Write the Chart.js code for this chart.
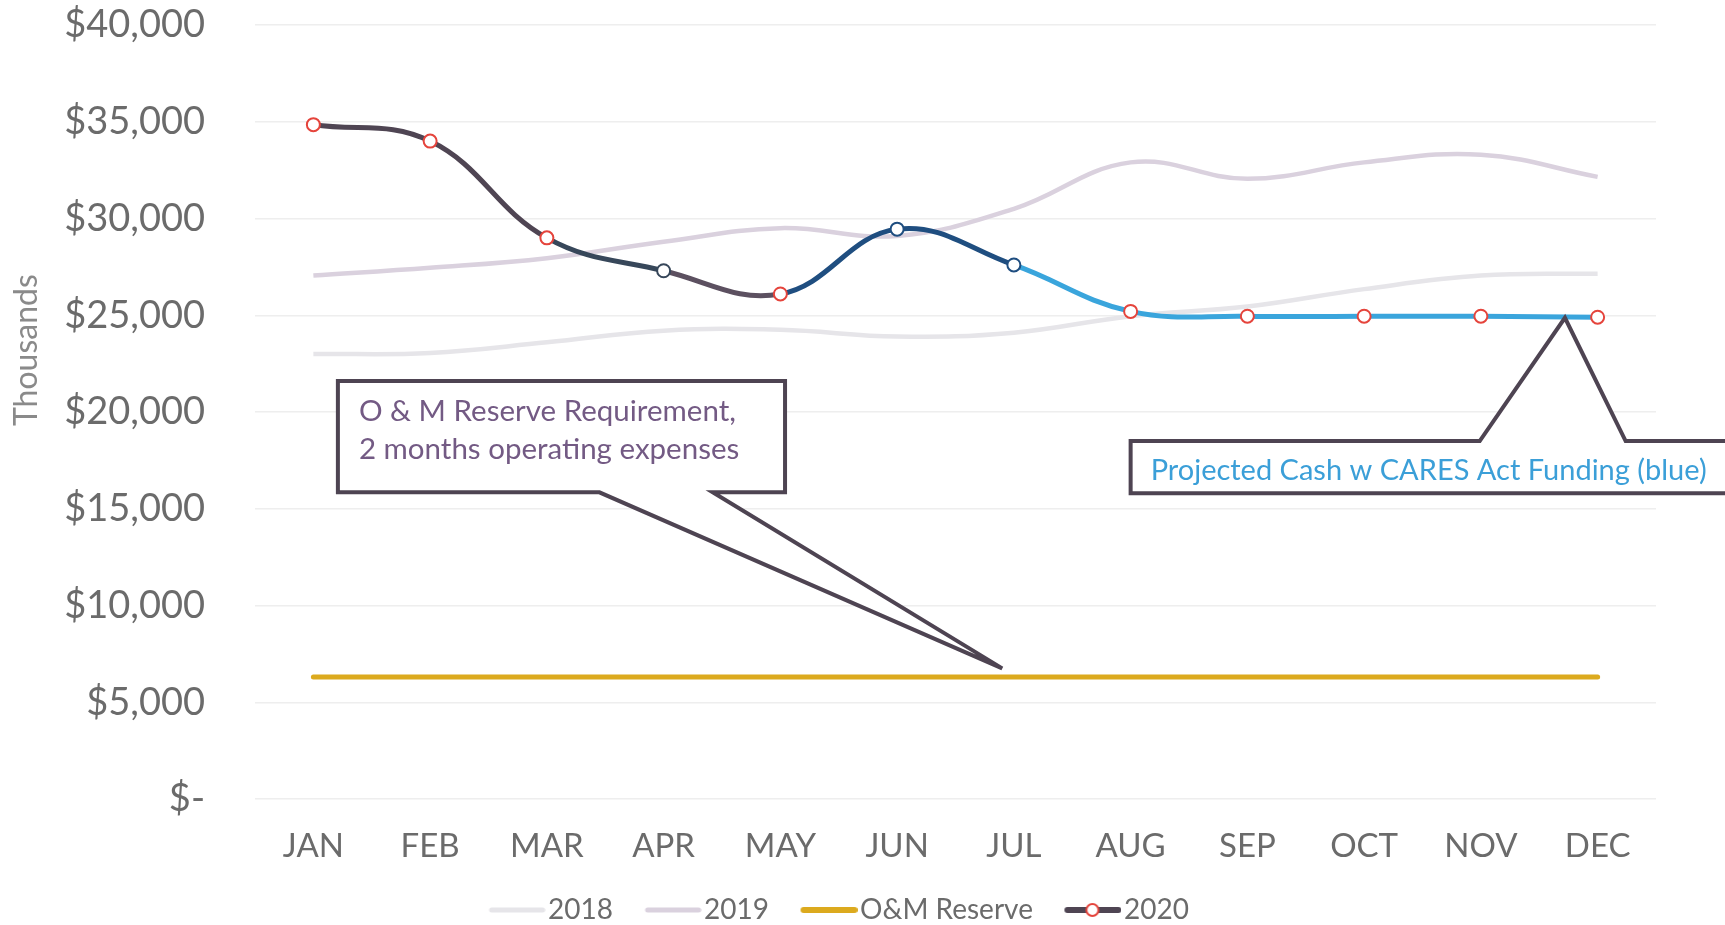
<!DOCTYPE html>
<html>
<head>
<meta charset="utf-8">
<script src="https://cdn.jsdelivr.net/npm/chart.js@4.4.1/dist/chart.umd.min.js"></script>
<style>
  html, body { margin: 0; padding: 0; background: #fff; }
</style>
</head>
<body>
<canvas id="cashChart" width="1725" height="925"></canvas>
<script>
  // values in thousands of dollars
  const months = ['JAN', 'FEB', 'MAR', 'APR', 'MAY', 'JUN', 'JUL', 'AUG', 'SEP', 'OCT', 'NOV', 'DEC']
  const cash2018 = [23000, 23050, 23600, 24200, 24250, 23900, 24100, 24950, 25450, 26350, 27050, 27150]
  const cash2019 = [27050, 27450, 27950, 28800, 29500, 29100, 30500, 32900, 32050, 32900, 33300, 32150]
  const omReserve = [6300, 6300, 6300, 6300, 6300, 6300, 6300, 6300, 6300, 6300, 6300, 6300]
  const cash2020 = [34850, 34000, 29000, 27300, 26100, 29450, 27600, 25200, 24950, 24950, 24950, 24900]
  const yTicks = [0, 5000, 10000, 15000, 20000, 25000, 30000, 35000, 40000]

  const omNote = ['O & M Reserve Requirement,', '2 months operating expenses']
  const caresNote = 'Projected Cash w CARES Act Funding (blue)'

  // line segment colours of 2020 (segment i runs from month i to i+1)
  const segColors = ['#4f4553', '#4f4553', '#37475a', '#5c5060', '#1f4e80', '#1f4e80',
    '#3aa5dc', '#3aa5dc', '#3aa5dc', '#3aa5dc', '#3aa5dc']
  const markerColors = ['#e5443c', '#e5443c', '#e5443c', '#37475a', '#e5443c', '#1f4e80',
    '#1f4e80', '#e5443c', '#e5443c', '#e5443c', '#e5443c', '#e5443c']

  Chart.defaults.font.family = 'Lato, "Open Sans", sans-serif'

  // legend swatch: the box is 67 wide, the line sits at its right end
  function legendIcon(color, width, marker) {
    const c = document.createElement('canvas')
    c.width = 90
    c.height = 16
    const g = c.getContext('2d')
    g.strokeStyle = color
    g.lineWidth = width
    g.lineCap = 'round'
    g.beginPath()
    g.moveTo(36, 8)
    g.lineTo(87, 8)
    g.stroke()
    if (marker) {
      g.beginPath()
      g.arc(61, 8, 6, 0, Math.PI * 2)
      g.fillStyle = '#fff'
      g.fill()
      g.lineWidth = 2
      g.strokeStyle = marker
      g.stroke()
    }
    return c
  }

  const icons = [
    legendIcon('#e6e5e9', 5),
    legendIcon('#dad1de', 5),
    legendIcon('#dcaa1e', 6),
    legendIcon('#4f4553', 6, '#e5443c')
  ]

  // callouts are placed in data units (category index, value)
  const callouts = {
    id: 'callouts',
    afterLayout(chart) {
      chart.legend.top += 9
      chart.legend.bottom += 9
    },
    afterDraw(chart) {
      const { ctx, scales: { x, y }, chartArea } = chart
      const px = i => x.getPixelForValue(i)
      const py = v => y.getPixelForValue(v)
      ctx.save()
      ctx.lineWidth = 4
      ctx.strokeStyle = '#4e4452'
      ctx.fillStyle = '#fff'
      ctx.lineJoin = 'miter'

      // O&M callout
      let x0 = px(0.21), x1 = px(4.04), t = py(21600), b = py(15850)
      ctx.beginPath()
      ctx.moveTo(x0, t)
      ctx.lineTo(x1, t)
      ctx.lineTo(x1, b)
      ctx.lineTo(px(3.42), b)
      ctx.lineTo(px(5.9), py(6750))
      ctx.lineTo(px(2.45), b)
      ctx.lineTo(x0, b)
      ctx.closePath()
      ctx.fill()
      ctx.stroke()
      ctx.fillStyle = '#735a84'
      ctx.font = '29.5px Lato'
      ctx.textBaseline = 'middle'
      ctx.fillText(omNote[0], x0 + 21, t + 30)
      ctx.fillText(omNote[1], x0 + 21, t + 68)

      // CARES callout
      x0 = px(7.0); x1 = px(12.3); t = py(18500); b = py(15800)
      ctx.fillStyle = '#fff'
      ctx.beginPath()
      ctx.moveTo(x0, b)
      ctx.lineTo(x0, t)
      ctx.lineTo(px(9.99), t)
      ctx.lineTo(px(10.72), py(24870))
      ctx.lineTo(px(11.24), t)
      ctx.lineTo(x1, t)
      ctx.lineTo(x1, b)
      ctx.closePath()
      ctx.fill()
      ctx.stroke()
      ctx.fillStyle = '#3b9fd8'
      ctx.font = '29px Lato'
      ctx.fillText(caresNote, x0 + 20, t + 30)

      // axis title
      ctx.translate(27, chartArea.top + chartArea.height * 0.42)
      ctx.rotate(-Math.PI / 2)
      ctx.textAlign = 'center'
      ctx.fillStyle = '#8a8a8a'
      ctx.font = '32px Lato'
      ctx.fillText('Thousands', 0, 0)
      ctx.restore()
    }
  }

  const ctx = document.getElementById('cashChart')
  // eslint-disable-next-line no-unused-vars
  const cashChart = new Chart(ctx, {
    type: 'line',
    data: {
      labels: months,
      datasets: [{
        label: '2018',
        data: cash2018,
        borderColor: '#e6e5e9',
        borderWidth: 4.5,
        pointRadius: 0,
        tension: 0.4,
        order: 1
      }, {
        label: '2019',
        data: cash2019,
        borderColor: '#dad1de',
        borderWidth: 4.5,
        pointRadius: 0,
        tension: 0.4,
        order: 1
      }, {
        label: 'O&M Reserve',
        data: omReserve,
        borderColor: '#dcaa1e',
        borderWidth: 5,
        pointRadius: 0,
        borderCapStyle: 'round',
        order: 1
      }, {
        label: '2020',
        data: cash2020,
        borderWidth: 5,
        tension: 0.4,
        segment: {
          borderColor: c => segColors[c.p0DataIndex]
        },
        pointRadius: 6.5,
        pointBorderWidth: 2,
        pointBackgroundColor: '#fff',
        pointBorderColor: markerColors,
        order: 0
      }]
    },
    options: {
      responsive: false,
      animation: false,
      layout: {
        padding: { top: 25, right: 69, left: 0, bottom: 0 }
      },
      scales: {
        x: {
          offset: true,
          grid: { display: false, drawTicks: true, tickLength: 28, tickColor: 'transparent' },
          border: { display: false },
          ticks: {
            color: '#6b6b6b',
            font: { size: 33 },
            padding: 0,
            maxRotation: 0
          },
          afterFit: scale => { scale.height = 78 }
        },
        y: {
          min: 0,
          max: 40000,
          afterBuildTicks: scale => { scale.ticks = yTicks.map(v => ({ value: v })) },
          grid: { color: '#eeeeee', lineWidth: 1.5, drawTicks: true, tickLength: 48, tickColor: 'transparent' },
          border: { display: false },
          ticks: {
            color: '#6b6b6b',
            font: { size: 38 },
            padding: 2,
            callback: v => v === 0 ? '$-' : '$' + v.toLocaleString('en-US')
          },
          afterFit: scale => { scale.width = 255 }
        }
      },
      plugins: {
        legend: {
          position: 'bottom',
          labels: {
            usePointStyle: true,
            pointStyleWidth: 67,
            padding: 10,
            color: '#6b6b6b',
            font: { size: 28 },
            generateLabels: chart => chart.data.datasets.map((ds, i) => ({
              text: ds.label,
              pointStyle: icons[i],
              datasetIndex: i,
              fontColor: '#6b6b6b',
              lineWidth: 0,
              hidden: false
            }))
          }
        },
        tooltip: { enabled: false }
      }
    },
    plugins: [callouts]
  })
</script>
</body>
</html>
